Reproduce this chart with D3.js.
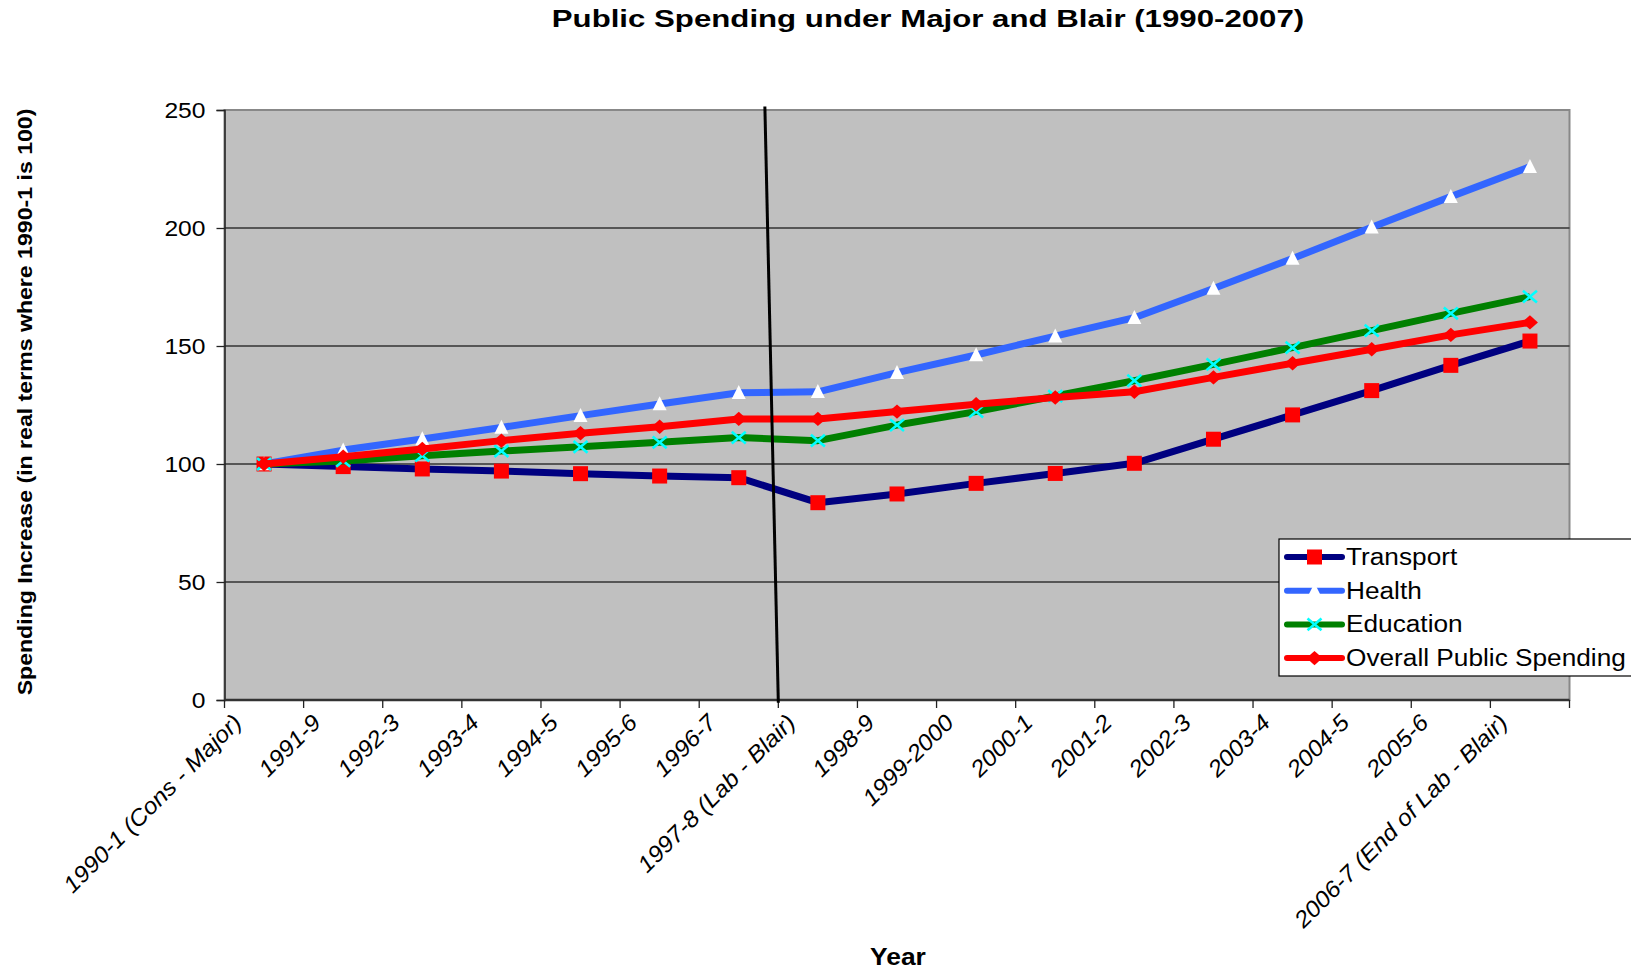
<!DOCTYPE html>
<html lang="en">
<head>
<meta charset="utf-8">
<script src="https://d3js.org/d3.v7.min.js"></script>
<style type="text/css">
body {
	margin: 0;
	background: white;
	font-family: "Liberation Sans", Arial, sans-serif;
}
</style>
</head>
<body>
<script type="text/javascript">

// category labels along the x axis
var years = ["1990-1 (Cons - Major)", "1991-9", "1992-3", "1993-4", "1994-5", "1995-6", "1996-7",
	"1997-8 (Lab - Blair)", "1998-9", "1999-2000", "2000-1", "2001-2", "2002-3", "2003-4",
	"2004-5", "2005-6", "2006-7 (End of Lab - Blair)"];

// series values (index, 1990-1 = 100)
var transport = [100, 98.9, 97.9, 97.0, 95.9, 94.9, 94.2, 83.6, 87.3, 91.8, 96.0, 100.3, 110.5, 120.8, 131.1, 141.8, 152.1];
var health    = [100, 105.9, 110.6, 115.5, 120.5, 125.4, 130.2, 130.6, 138.7, 146.2, 154.2, 162.0, 174.4, 187.1, 200.3, 213.3, 226.0];
var education = [100, 101.3, 103.5, 105.5, 107.3, 109.2, 111.2, 109.9, 116.5, 122.2, 128.8, 135.3, 142.2, 149.3, 156.5, 163.8, 170.9];
var overall   = [100, 103.1, 106.4, 109.9, 113.0, 115.8, 119.1, 119.1, 122.2, 125.3, 128.2, 130.6, 136.7, 142.7, 148.6, 154.7, 160.0];

var seriesNames = ["Transport", "Health", "Education", "Overall Public Spending"];
var yTicks = [0, 50, 100, 150, 200, 250];

var width = 1631;
var height = 972;
var plot = {left: 224.5, right: 1569.5, top: 110, bottom: 700};

var series = [
	{name: seriesNames[0], values: transport, color: "#000080", marker: "square"},
	{name: seriesNames[1], values: health,    color: "#3366FF", marker: "triangle"},
	{name: seriesNames[2], values: education, color: "#008000", marker: "cross"},
	{name: seriesNames[3], values: overall,   color: "#FF0000", marker: "diamond"}
];

var x = d3.scaleBand()
	.domain(years)
	.range([plot.left, plot.right]);

var y = d3.scaleLinear()
	.domain([0, 250])
	.range([plot.bottom, plot.top]);

function cx(i) { return x(years[i]) + x.bandwidth() / 2; }

// the original's text is a bit wider than Arial, stretch it
function widen(sel, k) {
	sel.each(function() {
		var len = this.getComputedTextLength();
		d3.select(this)
			.attr("textLength", len * k)
			.attr("lengthAdjust", "spacingAndGlyphs");
	});
}

var svg = d3.select("body")
	.append("svg")
	.attr("width", width)
	.attr("height", height);

// plot background
svg.append("rect")
	.attr("x", plot.left)
	.attr("y", plot.top)
	.attr("width", plot.right - plot.left)
	.attr("height", plot.bottom - plot.top)
	.attr("fill", "#C0C0C0")
	.attr("stroke", "#888")
	.attr("stroke-width", 2);

// gridlines
svg.append("g")
	.selectAll("line")
	.data(yTicks.filter(function(d) { return d > 0 && d < 250; }))
	.enter()
	.append("line")
	.attr("x1", plot.left)
	.attr("x2", plot.right)
	.attr("y1", function(d) { return y(d); })
	.attr("y2", function(d) { return y(d); })
	.attr("stroke", "#333")
	.attr("stroke-width", 1.3);

// y axis
var yAxis = svg.append("g")
	.attr("transform", "translate(" + plot.left + ",0)")
	.call(d3.axisLeft(y).tickValues(yTicks).tickSize(8).tickPadding(11));
yAxis.select(".domain").attr("stroke", "#222").attr("stroke-width", 1.5);
yAxis.selectAll(".tick line").attr("stroke", "#222").attr("stroke-width", 1.3);
yAxis.selectAll(".tick text")
	.style("font-family", "Liberation Sans, Arial, sans-serif")
	.style("font-size", "22px")
	.attr("fill", "#000")
	.call(widen, 1.12);

// x axis: ticks between categories
svg.append("line")
	.attr("x1", plot.left)
	.attr("x2", plot.right)
	.attr("y1", plot.bottom)
	.attr("y2", plot.bottom)
	.attr("stroke", "#333")
	.attr("stroke-width", 2.5);

var bounds = years.map(function(d) { return x(d); }).concat([plot.right]);
svg.append("g")
	.selectAll("line")
	.data(bounds)
	.enter()
	.append("line")
	.attr("x1", function(d) { return d; })
	.attr("x2", function(d) { return d; })
	.attr("y1", plot.bottom)
	.attr("y2", plot.bottom + 8)
	.attr("stroke", "#222")
	.attr("stroke-width", 1.3);

svg.append("g")
	.selectAll("text")
	.data(years)
	.enter()
	.append("text")
	.attr("transform", function(d, i) { return "translate(" + (cx(i) - 21) + "," + (plot.bottom + 24) + ") rotate(-45)"; })
	.attr("text-anchor", "end")
	.style("font-size", "23px")
	.style("font-style", "italic")
	.text(function(d) { return d; })
	.call(widen, 1.07);

// lines and markers
var line = d3.line()
	.x(function(d, i) { return cx(i); })
	.y(function(d) { return y(d); });

function drawMarker(g, type, size) {
	if (type === "square") {
		g.append("rect")
			.attr("x", -size / 2).attr("y", -size / 2)
			.attr("width", size).attr("height", size)
			.attr("fill", "#FF0000");
	} else if (type === "triangle") {
		g.append("path")
			.attr("d", "M0," + (-size * 0.55) + "L" + (size * 0.5) + "," + (size * 0.45) + "L" + (-size * 0.5) + "," + (size * 0.45) + "Z")
			.attr("fill", "#FFFFFF");
	} else if (type === "cross") {
		var sx = size / 2, sy = size * 0.42;
		g.append("path")
			.attr("d", "M" + (-sx) + "," + (-sy) + "L" + sx + "," + sy + "M" + (-sx) + "," + sy + "L" + sx + "," + (-sy))
			.attr("stroke", "#00FFFF")
			.attr("stroke-width", 2.6)
			.attr("fill", "none");
	} else if (type === "diamond") {
		var rx = size / 2, ry = size * 0.45;
		g.append("path")
			.attr("d", "M0," + (-ry) + "L" + rx + ",0L0," + ry + "L" + (-rx) + ",0Z")
			.attr("fill", "#FF0000");
	}
}

var markerSize = {square: 15, triangle: 14, cross: 14, diamond: 16};

series.forEach(function(s) {
	svg.append("path")
		.datum(s.values)
		.attr("d", line)
		.attr("fill", "none")
		.attr("stroke", s.color)
		.attr("stroke-width", 7)
		.attr("stroke-linejoin", "round");

	svg.append("g")
		.selectAll("g")
		.data(s.values)
		.enter()
		.append("g")
		.attr("transform", function(d, i) { return "translate(" + cx(i) + "," + y(d) + ")"; })
		.each(function() { drawMarker(d3.select(this), s.marker, markerSize[s.marker]); });
});

// vertical line marking change of government
var step = x.step();
svg.append("line")
	.attr("x1", x("1997-8 (Lab - Blair)") - step * 0.17)
	.attr("y1", y(251.5))
	.attr("x2", x("1997-8 (Lab - Blair)"))
	.attr("y2", y(-1.2))
	.attr("stroke", "#000")
	.attr("stroke-width", 3);

// legend
var legend = svg.append("g")
	.attr("transform", "translate(1279,539)");

legend.append("rect")
	.attr("width", 380)
	.attr("height", 137)
	.attr("fill", "#FFFFFF")
	.attr("stroke", "#000")
	.attr("stroke-width", 1.2);

var item = legend.selectAll("g.item")
	.data(series)
	.enter()
	.append("g")
	.attr("class", "item")
	.attr("transform", function(d, i) { return "translate(0," + (18 + i * 33.7) + ")"; });

item.append("line")
	.attr("x1", 8)
	.attr("x2", 63)
	.attr("stroke", function(d) { return d.color; })
	.attr("stroke-width", 6)
	.attr("stroke-linecap", "round");

item.each(function(d) {
	var g = d3.select(this).append("g").attr("transform", "translate(35.5,0)");
	drawMarker(g, d.marker, markerSize[d.marker]);
});

item.append("text")
	.attr("x", 67)
	.attr("dy", "0.35em")
	.style("font-size", "23px")
	.text(function(d) { return d.name; })
	.call(widen, 1.14);

// titles
svg.append("text")
	.attr("x", 928)
	.attr("y", 27)
	.attr("text-anchor", "middle")
	.style("font-size", "24px")
	.style("font-weight", "bold")
	.text("Public Spending under Major and Blair (1990-2007)")
	.call(widen, 1.3);

svg.append("text")
	.attr("x", 898)
	.attr("y", 965)
	.attr("text-anchor", "middle")
	.style("font-size", "24px")
	.style("font-weight", "bold")
	.text("Year")
	.call(widen, 1.1);

svg.append("text")
	.attr("transform", "translate(32,402) rotate(-90)")
	.attr("text-anchor", "middle")
	.style("font-size", "21px")
	.style("font-weight", "bold")
	.text("Spending Increase (in real terms where 1990-1 is 100)")
	.call(widen, 1.1);

</script>
</body>
</html>
